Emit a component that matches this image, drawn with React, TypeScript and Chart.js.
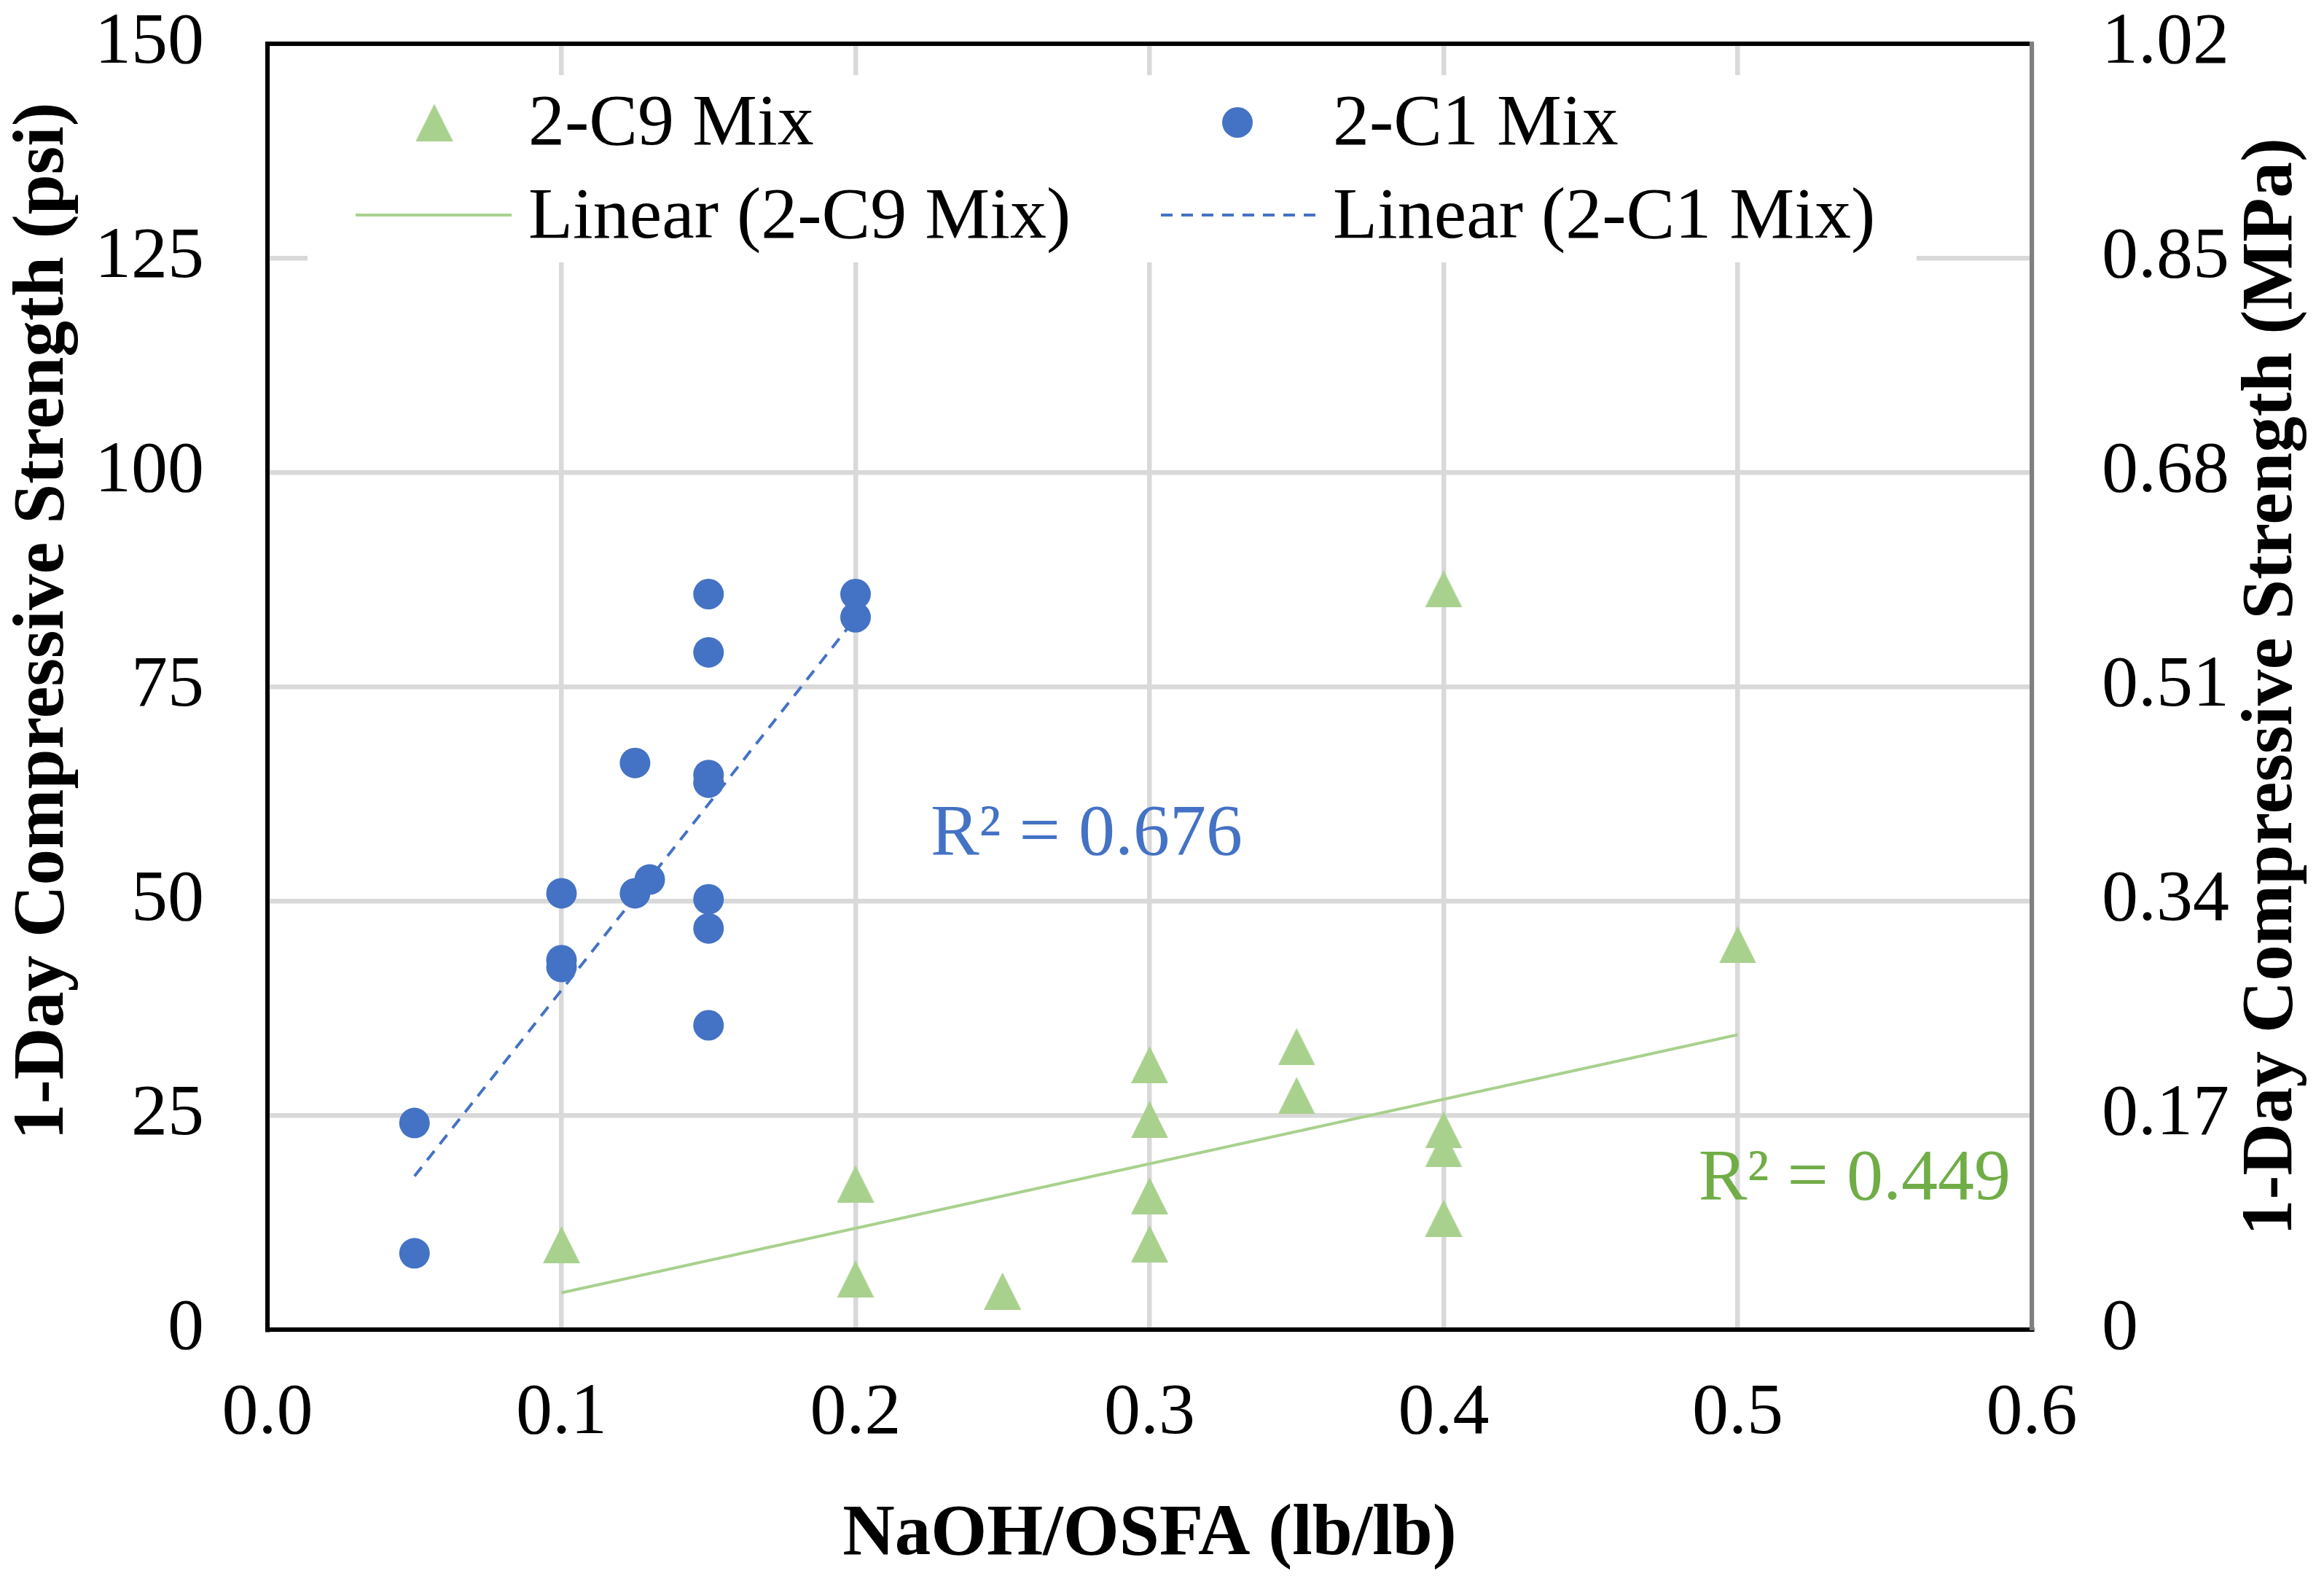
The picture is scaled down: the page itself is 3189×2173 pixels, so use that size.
import React, { useEffect, useRef } from "react";
import Chart from "chart.js/auto";

const W = 3189;
const H = 2173;
const FONT = "'Liberation Serif', 'Times New Roman', serif";
const GREEN = "#A9D18E";
const GREEN_TEXT = "#70AD47";
const BLUE = "#4472C4";
const GRID = "#D9D9D9";

// 2-C9 Mix (triangles)
const c9X = [0.1, 0.2, 0.2, 0.25, 0.3, 0.3, 0.3, 0.3, 0.35, 0.35, 0.4, 0.4, 0.4, 0.4, 0.5];
const c9Y = [9.9, 17.0, 5.9, 4.5, 30.9, 24.5, 15.6, 10.0, 33.0, 27.3, 86.4, 23.3, 21.1, 13.0, 44.9];

// 2-C1 Mix (circles)
const c1X = [0.05, 0.05, 0.1, 0.1, 0.1, 0.125, 0.125, 0.13, 0.15, 0.15, 0.15, 0.15, 0.15, 0.15, 0.15, 0.2, 0.2];
const c1Y = [24.1, 8.9, 50.9, 43.1, 42.3, 66.1, 50.9, 52.5, 85.8, 79.0, 64.7, 63.8, 50.2, 46.8, 35.5, 85.8, 83.1];

// trendline end points
const c9TrendX = [0.1, 0.5];
const c9TrendY = [4.3, 34.4];
const c1TrendX = [0.05, 0.2];
const c1TrendY = [17.9, 83.0];

const seriesLabels = ["2-C9 Mix", "2-C1 Mix", "Linear (2-C9 Mix)", "Linear (2-C1 Mix)"];

// R² labels, anchored in data units
const r2Texts = ["R\u00B2 = 0.676", "R\u00B2 = 0.449"];
const r2X = [0.2255, 0.4867];
const r2Y = [55.4, 15.2];
const r2Colors = [BLUE, GREEN_TEXT];

const xTicks = [0, 0.1, 0.2, 0.3, 0.4, 0.5, 0.6];
const xTickLabels = ["0.0", "0.1", "0.2", "0.3", "0.4", "0.5", "0.6"];
const psiTicks = [0, 25, 50, 75, 100, 125, 150];
const psiTickLabels = ["0", "25", "50", "75", "100", "125", "150"];
const mpaTicks = [0, 0.17, 0.34, 0.51, 0.68, 0.85, 1.02];
const mpaTickLabels = ["0", "0.17", "0.34", "0.51", "0.68", "0.85", "1.02"];

const xTitle = "NaOH/OSFA (lb/lb)";
const yTitle = "1-Day Compressive Strength (psi)";
const y2Title = "1-Day Compressive Strength (MPa)";

Chart.defaults.font.family = FONT;
Chart.defaults.color = "#000";

const toPoints = (xs: number[], ys: number[]) => xs.map((x, i) => ({ x, y: ys[i] }));

function makeTriangle(size: number, color: string) {
  const c = document.createElement("canvas");
  c.width = size;
  c.height = size;
  const g = c.getContext("2d");
  if (g) {
    g.fillStyle = color;
    g.beginPath();
    g.moveTo(0, size);
    g.lineTo(size / 2, 0);
    g.lineTo(size, size);
    g.closePath();
    g.fill();
  }
  return c;
}

// fixed axis box sizes, no extra label padding pushed into the layout
const fixSize = (key: "width" | "height", size: number) => (s: any) => {
  s[key] = size;
  s.paddingTop = 0;
  s.paddingBottom = 0;
  s.paddingLeft = 0;
  s.paddingRight = 0;
};

export default function App() {
  const canvasRef = useRef<HTMLCanvasElement | null>(null);

  useEffect(() => {
    if (!canvasRef.current) return;
    const tri = makeTriangle(51, GREEN);

    const overlay = {
      id: "overlay",
      afterDraw(chart: any) {
        const { ctx, chartArea, scales } = chart;
        const lx = chartArea.left;
        const ly = chartArea.top;
        const midY = (chartArea.top + chartArea.bottom) / 2;
        ctx.save();

        // axis titles, both reading upwards
        ctx.font = `bold 99px ${FONT}`;
        ctx.fillStyle = "#000";
        ctx.textAlign = "center";
        ctx.textBaseline = "middle";
        ctx.save();
        ctx.translate(60, midY - 90);
        ctx.rotate(-Math.PI / 2);
        ctx.fillText(yTitle, 0, 0);
        ctx.restore();
        ctx.save();
        ctx.translate(3118, midY);
        ctx.rotate(-Math.PI / 2);
        ctx.fillText(y2Title, 0, 0);
        ctx.restore();

        // R² labels
        ctx.font = `100px ${FONT}`;
        ctx.textAlign = "left";
        ctx.textBaseline = "alphabetic";
        r2Texts.forEach((t, i) => {
          ctx.fillStyle = r2Colors[i];
          ctx.fillText(t, scales.x.getPixelForValue(r2X[i]), scales.y.getPixelForValue(r2Y[i]));
        });

        // legend
        ctx.fillStyle = "#fff";
        ctx.fillRect(lx + 55, ly + 43, 2208, 257);
        ctx.drawImage(tri, lx + 229 - 25.5, ly + 108 - 25.5);
        ctx.fillStyle = BLUE;
        ctx.beginPath();
        ctx.arc(lx + 1331, ly + 108, 21, 0, Math.PI * 2);
        ctx.fill();

        ctx.lineWidth = 4;
        ctx.strokeStyle = GREEN;
        ctx.beginPath();
        ctx.moveTo(lx + 121, ly + 235);
        ctx.lineTo(lx + 335, ly + 235);
        ctx.stroke();
        ctx.strokeStyle = BLUE;
        ctx.setLineDash([16, 12]);
        ctx.beginPath();
        ctx.moveTo(lx + 1226, ly + 235);
        ctx.lineTo(lx + 1439, ly + 235);
        ctx.stroke();
        ctx.setLineDash([]);

        ctx.fillStyle = "#000";
        ctx.fillText(seriesLabels[0], lx + 358, ly + 138);
        ctx.fillText(seriesLabels[1], lx + 1462, ly + 138);
        ctx.fillText(seriesLabels[2], lx + 358, ly + 266);
        ctx.fillText(seriesLabels[3], lx + 1462, ly + 266);

        ctx.restore();
      },
    };

    const chart = new Chart(canvasRef.current, {
      type: "scatter",
      data: {
        datasets: [
          {
            label: seriesLabels[0],
            data: toPoints(c9X, c9Y),
            pointStyle: tri as any,
            pointRadius: 25,
            backgroundColor: GREEN,
            borderColor: GREEN,
            order: 0,
          },
          {
            label: seriesLabels[1],
            data: toPoints(c1X, c1Y),
            pointStyle: "circle",
            pointRadius: 21,
            borderWidth: 0,
            backgroundColor: BLUE,
            borderColor: BLUE,
            order: 0,
          },
          {
            label: seriesLabels[2],
            data: toPoints(c9TrendX, c9TrendY),
            showLine: true,
            pointRadius: 0,
            borderColor: GREEN,
            borderWidth: 4,
            order: 1,
          },
          {
            label: seriesLabels[3],
            data: toPoints(c1TrendX, c1TrendY),
            showLine: true,
            pointRadius: 0,
            borderColor: BLUE,
            borderWidth: 4,
            borderDash: [16, 12],
            order: 1,
          },
        ],
      },
      options: {
        animation: false,
        responsive: false,
        layout: { padding: 0 },
        plugins: {
          legend: { display: false },
          tooltip: { enabled: false },
        },
        scales: {
          x: {
            type: "linear",
            position: "bottom",
            min: 0,
            max: 0.6,
            afterBuildTicks: (s: any) => {
              s.ticks = xTicks.map((v) => ({ value: v }));
            },
            afterFit: fixSize("height", 349),
            ticks: {
              callback: (_v: any, i: number) => xTickLabels[i],
              padding: 56,
              font: { size: 100 },
              color: "#000",
              autoSkip: false,
              maxRotation: 0,
            },
            grid: { color: GRID, lineWidth: 6.5, drawTicks: false },
            border: { display: true, color: "#000", width: 6 },
            title: {
              display: true,
              text: xTitle,
              font: { size: 99, weight: "bold" },
              color: "#000",
              padding: { top: 0, bottom: 7 },
            },
          },
          xTop: {
            type: "linear",
            position: "top",
            min: 0,
            max: 0.6,
            ticks: { display: false },
            grid: { display: false, drawTicks: false },
            border: { display: true, color: "#000", width: 6 },
            afterFit: fixSize("height", 60),
          },
          y: {
            type: "linear",
            position: "left",
            min: 0,
            max: 150,
            afterBuildTicks: (s: any) => {
              s.ticks = psiTicks.map((v) => ({ value: v }));
            },
            afterFit: fixSize("width", 367),
            ticks: {
              callback: (_v: any, i: number) => psiTickLabels[i],
              padding: 87,
              font: { size: 100 },
              color: "#000",
              autoSkip: false,
            },
            grid: { color: GRID, lineWidth: 6.5, drawTicks: false },
            border: { display: true, color: "#000", width: 6 },
          },
          y2: {
            type: "linear",
            position: "right",
            min: 0,
            max: 1.02,
            afterBuildTicks: (s: any) => {
              s.ticks = mpaTicks.map((v) => ({ value: v }));
            },
            afterFit: fixSize("width", 401),
            ticks: {
              callback: (_v: any, i: number) => mpaTickLabels[i],
              padding: 96,
              font: { size: 100 },
              color: "#000",
              autoSkip: false,
            },
            grid: { drawOnChartArea: false, drawTicks: false },
            border: { display: true, color: "#7F7F7F", width: 6 },
          },
        },
      },
      plugins: [overlay],
    });

    return () => {
      chart.destroy();
    };
  }, []);

  return (
    <div
      style={{
        position: "fixed",
        left: 0,
        top: 0,
        width: W,
        height: H,
        background: "#fff",
      }}
    >
      <canvas
        ref={canvasRef}
        width={W}
        height={H}
        style={{ width: W, height: H, display: "block" }}
      />
    </div>
  );
}
